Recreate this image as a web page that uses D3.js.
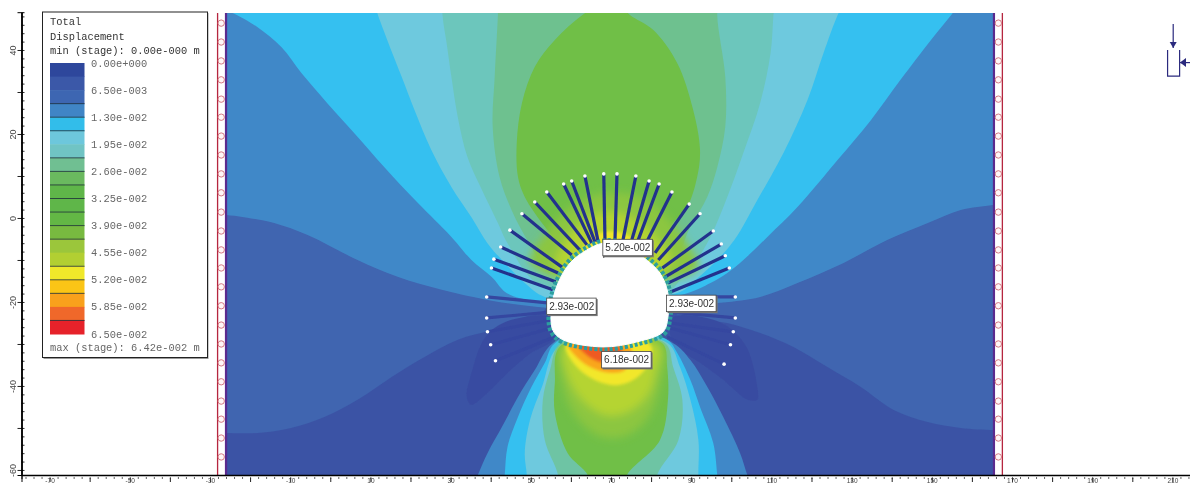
<!DOCTYPE html>
<html>
<head>
<meta charset="utf-8">
<script src="https://cdnjs.cloudflare.com/ajax/libs/d3/7.8.5/d3.min.js"></script>
<style>
  html, body { margin: 0; padding: 0; background: #fff; overflow: hidden; }
  svg { display: block; }
  .mono { font-family: "Liberation Mono", monospace; font-size: 10.4px; }
</style>
</head>
<body>
<svg id="chart" width="1190" height="486"></svg>
<script>
const xTickLabels = [-70, -50, -30, -10, 10, 30, 50, 70, 90, 110, 130, 150, 170, 190, 210];
const yTickLabels = [40, 20, 0, -20, -40, -60];

// legend
const legendTicks = [0, 0.0065, 0.013, 0.0195, 0.026, 0.0325, 0.039, 0.0455, 0.052, 0.0585, 0.065];
const legendLabels = ['0.00e+000', '6.50e-003', '1.30e-002', '1.95e-002', '2.60e-002', '3.25e-002', '3.90e-002', '4.55e-002', '5.20e-002', '5.85e-002', '6.50e-002'];
const legendColors = ['#2f469c', '#3a58a8', '#3d66b2', '#3f85c6', '#33bdea', '#6dc7dc', '#70c4c4', '#70bf92', '#6bb95f', '#5fb648',
  '#5fb648', '#63b745', '#78ba40', '#9bc63a', '#b2cf33', '#f0e82a', '#fbc515', '#f9a11b', '#f0672a', '#e62329'];
const legendBreaks = [3, 4, 5, 7, 8, 9, 10, 11, 12, 13, 15, 16, 17, 19];

// contour boundaries [x, y] in model units
const darkLeft = [[-32, 5], [-32, -51.2], [-26.5, -51.2], [-18.2, -51.2], [-9.8, -50], [-1.5, -47.4], [6.8, -43.3], [15.2, -37.9], [23.5, -33.1], [31.8, -29], [40.2, -26.7], [48.5, -23.6], [53.5, -21.9], [53.5, -15]];
const darkRight = [[86, -15], [86.5, -23.1], [99, -25], [107.2, -27.4], [115.5, -30.7], [124, -35.5], [132.2, -40.2], [140.5, -45.7], [149, -48.6], [157.2, -50], [165.5, -50.5], [169.8, -50.5], [172, -50.5], [172, 5]];
const earLeft = [[55.5, -23.8], [43.5, -24.8], [38.5, -28.6], [35.2, -36.9], [34, -42.6], [35.2, -44.5], [39.2, -41.7], [44.2, -36.9], [50.2, -32.1], [55.5, -29]];
const earRight = [[85.2, -23.8], [97.2, -24.8], [103.5, -30.2], [106.5, -40.2], [106.5, -43.3], [104, -43.3], [98, -38.6], [92.2, -34.5], [85.5, -29.8]];

const upperBlue = [[-32, 56], [-32, 1.5], [-30.2, 1], [-26, .7], [-21.5, .2], [-14, -1.2], [-5.8, -4], [6.8, -10], [16.8, -14], [27.8, -17.1], [39.2, -19.5], [51.8, -21.2], [69.8, -21.9], [97.2, -20.2], [107.2, -18.8], [116.5, -15.5], [128, -10.7], [139, -5.2], [149, -1.2], [157.2, 1.9], [165.2, 3.1], [169.8, 3.6], [173, 4], [173, 56]];
const upperCyan = [[-28, 56], [-26.5, 50], [-23.2, 48.3], [-18.2, 45.5], [-12.2, 40.7], [-7.2, 34.5], [-.8, 27.4], [6, 20.2], [13.5, 12.1], [21.8, 3.6], [30.2, -4.5], [35.2, -10], [40.2, -14], [44.8, -18.3], [69.8, -20.7], [89, -17.9], [94.8, -15.5], [99, -13.1], [103, -10], [109, -4.5], [116.5, 2.6], [126.5, 13.8], [134.8, 23.3], [142.2, 32.9], [149.8, 42.4], [154.8, 48.3], [158.5, 53], [158.5, 56]];
const upperLight = [[10.5, 54], [11.5, 49.5], [14.2, 42.4], [17.8, 33.6], [21, 25.7], [25.2, 16.2], [30.2, 7.4], [35.2, .2], [39.2, -6], [42.8, -10], [48.5, -15.5], [53.5, -18.8], [69.8, -19.5], [87.2, -17.6], [91, -14.8], [96, -10.5], [100.8, -5.2], [106.5, 4.3], [113, 15.5], [119, 28.1], [123, 39.3], [126.5, 48.3], [128.5, 52], [128.5, 54]];
const upperTeal = [[28, 54], [28, 48.3], [29, 41.7], [30.2, 33.6], [31.8, 24], [34.2, 14.5], [37.8, 6.7], [41.8, -1.2], [44.2, -6], [52.2, -16], [69.8, -18.3], [84.8, -17.1], [87.2, -14.8], [91, -10.5], [94.8, -4.5], [99, 5], [103, 15.5], [107.2, 27.4], [109.8, 39.3], [110.5, 48.3], [111, 54]];
const upperSeaGreen = [[42, 54], [41.8, 48.3], [41, 33.6], [40.5, 21.7], [42.2, 9.8], [45.2, 1.9], [49.8, -6.4], [54.2, -12.4], [69.8, -16], [84.8, -11.2], [89.8, -2.1], [94, 5], [96.5, 12.1], [98.5, 21.7], [98.5, 33.6], [96.5, 48.3], [97, 54]];
const upperGreen = [[67.2, 50.7], [62.8, 48.3], [56, 42.4], [51, 36], [47.8, 27.4], [46.5, 17.9], [46.8, 9.8], [48.5, 5], [53.5, -2.1], [56.8, -6], [59.8, -12.4], [69.8, -14.8], [82.2, -10], [84.8, -2.1], [89, 2.6], [91.5, 9.8], [92.2, 16.2], [90.5, 25.7], [86.5, 36.9], [80.5, 44.8], [74.8, 48.3], [72.2, 50.7]];
const upperLime = [[49.8, -10.5], [53.5, -4], [58.5, 1.4], [64.8, 5], [70.2, 6], [77.2, 5], [83.5, .7], [89.2, -6.4], [91.8, -11.9], [77.2, -16], [62.2, -16]];
const upperOlive = [[56.2, -11.9], [58.8, -5.2], [62.8, -1], [67.2, 1.2], [71.8, 1.2], [77.2, -1], [81.8, -5.2], [85.2, -10.5], [77.2, -14.8], [62.2, -14.8]];
const upperYellow = [[62, -10.5], [63.8, -6], [67.2, -3.6], [71.8, -3.3], [75.8, -5.2], [79.2, -9.5], [72.2, -12.4], [64.8, -12.4]];

const lowerBlue = [[34.8, -66], [36.8, -61.2], [39.2, -56], [42.8, -49.8], [46.8, -42.6], [51, -36.2], [55.5, -29.8], [69.8, -25.5], [85.5, -29.8], [89.8, -33.8], [94, -40.2], [98, -47.4], [102.2, -56], [104, -61.2], [106, -66]];
const lowerCyan = [[43, -66], [43.5, -61.2], [44.2, -54.5], [46.8, -47.4], [50.2, -40.2], [53.5, -34.5], [56, -29.8], [69.8, -26.7], [84, -29], [86.5, -32.1], [89.8, -38.6], [92.2, -45], [95.5, -53.6], [96.5, -61.2], [97, -66]];
const lowerLight = [[49, -66], [49, -61.2], [48.5, -56], [49.8, -48.1], [52.8, -40.2], [56.8, -30.7], [69.8, -27.9], [84.2, -29.8], [87.2, -35.5], [89.8, -43.3], [91.8, -52.9], [91.8, -61.2], [92, -66]];
const lowerTeal = [[57, -66], [56.8, -61.2], [53.5, -52.9], [53, -43.3], [54.8, -36.2], [57.2, -30.2], [69.8, -28.6], [83.5, -29.8], [85.5, -35.5], [87.8, -43.3], [86.8, -52.9], [81.5, -61.2], [81, -66]];
const lowerGreen = [[65, -66], [64.2, -61.2], [59.2, -56], [56, -46.4], [56, -39.3], [57.2, -30.7], [69.8, -29], [82.8, -29.8], [84, -35.5], [84.2, -43.3], [82.2, -52.9], [74, -61.2], [73, -66]];
const lowerLime = [[57.8, -30.2], [58, -39.8], [61, -46.9], [67.2, -51.9], [73.5, -51.9], [79.2, -47.6], [82.2, -39.8], [82.8, -30.2]];
const lowerOlive = [[58.5, -30.2], [59.2, -37.4], [62.8, -43.3], [68.5, -46.9], [74.2, -46.2], [79.2, -42.1], [81.2, -36.2], [81.8, -30.2]];
const lowerYellow = [[58.8, -30.2], [61.5, -35.5], [66.5, -38.8], [71.5, -39.8], [75.5, -38.6], [79.2, -35], [79.8, -30.2]];
const lowerOrange = [[59.2, -29.8], [62.2, -33.8], [66.5, -36.2], [70.5, -36.9], [73.5, -36.2], [75.2, -31.4], [69.8, -29]];
const lowerRed = [[61.8, -30.2], [64.8, -33.3], [68, -34.5], [71, -34.3], [72.8, -31.4], [67.2, -29]];

// excavation outline
const tunnel = [[68, -6], [73.5, -6.4], [78, -9.3], [82.2, -13.1], [84.2, -17.9], [84.2, -23.6], [83, -27.1], [76.5, -29.5], [68, -30.7], [58, -29], [55.5, -26.7], [55.2, -21.2], [56.8, -15.5], [59.8, -10.7], [64, -7.6]];

// rock bolts: collar and far end
const boltCollars = [[55.5, -17.1], [56.2, -15.2], [56.8, -13.1], [57.8, -11.7], [60.2, -8.8], [62.2, -7.6], [64, -6.4], [65.2, -6], [66, -5.7], [66.8, -5.7], [68.5, -5.2], [71, -5.2], [73, -5.2], [75.2, -5.2], [76.8, -5.2], [79.2, -5.2], [81, -8.3], [81.8, -10], [82.8, -11.9], [83.5, -14], [84.2, -15.5], [84.8, -17.6], [84.8, -18.8], [85.2, -22.4], [84.8, -25], [84.8, -26.2], [84, -28.3], [54.2, -20.2], [54.8, -22.4], [55.2, -24.3], [55.2, -26.2], [56, -28.3]];
const boltEnds = [[40.2, -11.9], [40.8, -9.8], [42.5, -6.9], [44.8, -2.9], [47.8, 1], [51, 3.8], [54, 6.2], [58.2, 8.1], [60.2, 8.8], [63.5, 10], [68.2, 10.5], [71.5, 10.5], [76.2, 10], [79.5, 8.8], [82, 8.1], [85.2, 6.2], [89.5, 3.3], [92.2, 1], [95.5, -3.1], [97.5, -6.2], [98.5, -9], [99.5, -11.9], [101, -18.8], [101, -23.8], [100.5, -27.1], [99.8, -30.2], [98.2, -34.8], [39, -18.8], [39, -23.8], [39.2, -27.1], [40, -30.2], [41.2, -34]];

// query labels on the excavation
const calloutLabels = ['5.20e-002', '2.93e-002', '2.93e-002', '6.18e-002'];
const calloutPoints = [[74.2, -7.1], [60.2, -21.1], [90.1, -20.4], [73.9, -33.8]];

// restraints along the model sides
const hingeY = [46.4, 41.9, 37.4, 32.9, 28.3, 24, 19.5, 15, 10.5, 6, 1.4, -3.1, -7.6, -11.9, -16.4, -20.9, -25.5, -30, -34.5, -39, -43.6, -47.9, -52.4, -56.9];
const modelX = [-26, 165.5];
const modelY = [48.8, -61.2];
const stripX = [-28.1, 167.6];
const hingeX = [-27.2, 166.6];

// field stress symbol
const symbolBox = [[208.8, 40], [208.8, 33.8], [211.8, 33.8], [211.8, 40]];
const symbolArrowDown = [[210.2, 46.2], [210.2, 40.5]];
const symbolArrowLeft = [[214.8, 37], [211.9, 37]];

const svg = d3.select('#chart');

const x = d3.scaleLinear().domain([-77, 220]).range([21.5, 1212.5]);
const y = d3.scaleLinear().domain([49, -61.2]).range([12.2, 475]);
const legendY = d3.scaleLinear().domain([0, 0.065]).range([63, 334]);

const closedLine = d3.line().x(d => x(d[0])).y(d => y(d[1])).curve(d3.curveCatmullRomClosed.alpha(0.5));

const defs = svg.append('defs');
defs.append('clipPath').attr('id', 'model').append('rect')
    .attr('x', x(modelX[0])).attr('y', y(modelY[0]))
    .attr('width', x(modelX[1]) - x(modelX[0])).attr('height', y(modelY[1]) - y(modelY[0]));
const blurs = { soft: 0.7, mid: 1.6, wide: 4.5, text: 0.45 };
Object.keys(blurs).forEach(k => {
    defs.append('filter').attr('id', k)
        .attr('x', '-20%').attr('y', '-20%').attr('width', '140%').attr('height', '140%')
        .append('feGaussianBlur').attr('stdDeviation', blurs[k]);
});

// contour field, outer bands first
const field = svg.append('g').attr('clip-path', 'url(#model)');
field.append('rect')
    .attr('x', x(modelX[0])).attr('y', y(modelY[0]))
    .attr('width', x(modelX[1]) - x(modelX[0])).attr('height', y(modelY[1]) - y(modelY[0]))
    .attr('fill', '#3b53a5');

const hardBands = [
    [darkLeft, '#3f65b0'], [darkRight, '#3f65b0'], [earLeft, '#394ca1'], [earRight, '#394ca1'],
    [upperBlue, '#4088c8'], [upperCyan, '#35c0f0'], [upperLight, '#6ec9de'], [upperTeal, '#6cc6bc'], [upperSeaGreen, '#6ec18f'], [upperGreen, '#6fbf47'],
    [lowerBlue, '#4088c8'], [lowerCyan, '#35c0f0'], [lowerLight, '#6ec9de'], [lowerTeal, '#6ec4a4'], [lowerGreen, '#6fbf47']
];
const wideBands = [
    [upperLime, '#8cc63f'], [upperOlive, '#b5d433'],
    [lowerLime, '#8cc63f'], [lowerOlive, '#b5d433']
];
const midBands = [
    [upperYellow, '#f0e62b'], [lowerYellow, '#f2e72a'], [lowerOrange, '#f9a61c'], [lowerRed, '#ee5a24']
];

field.append('g').attr('filter', 'url(#soft)').selectAll('path')
    .data(hardBands).enter().append('path')
    .attr('d', d => closedLine(d[0]))
    .attr('fill', d => d[1]);
field.append('g').attr('filter', 'url(#wide)').selectAll('path')
    .data(wideBands).enter().append('path')
    .attr('d', d => closedLine(d[0]))
    .attr('fill', d => d[1]);
field.append('g').attr('filter', 'url(#mid)').selectAll('path')
    .data(midBands).enter().append('path')
    .attr('d', d => closedLine(d[0]))
    .attr('fill', d => d[1]);

// bolts
const bolts = boltCollars.map((c, i) => ({ collar: c, end: boltEnds[i], upper: boltEnds[i][1] > -15 }));
svg.append('g').attr('filter', 'url(#soft)').selectAll('line')
    .data(bolts).enter().append('line')
    .attr('x1', d => x(d.collar[0])).attr('y1', d => y(d.collar[1]))
    .attr('x2', d => x(d.end[0])).attr('y2', d => y(d.end[1]))
    .attr('stroke', d => d.upper ? '#23308c' : '#3547a0')
    .attr('stroke-width', 3.2);

// excavation: teal liner nubs with the white opening on top
svg.append('path')
    .attr('d', closedLine(tunnel))
    .attr('fill', 'none')
    .attr('stroke', '#2b9f9f')
    .attr('stroke-width', 9)
    .attr('stroke-dasharray', '3 2');
svg.append('path')
    .attr('d', closedLine(tunnel))
    .attr('fill', '#fff')
    .attr('stroke', '#fff')
    .attr('stroke-width', 1)
    .attr('filter', 'url(#text)');

// bolt end dots
svg.append('g').selectAll('circle')
    .data(boltEnds).enter().append('circle')
    .attr('cx', d => x(d[0])).attr('cy', d => y(d[1]))
    .attr('r', 1.8).attr('fill', '#fff');

// restraints on both sides
const sides = svg.append('g').attr('filter', 'url(#text)');
[0, 1].forEach(s => {
    sides.append('line')
        .attr('x1', x(stripX[s])).attr('x2', x(stripX[s]))
        .attr('y1', y(modelY[0])).attr('y2', y(modelY[1]))
        .attr('stroke', '#b5283f').attr('stroke-width', 1.3);
    sides.append('line')
        .attr('x1', x(modelX[s])).attr('x2', x(modelX[s]))
        .attr('y1', y(modelY[0])).attr('y2', y(modelY[1]))
        .attr('stroke', '#5a2a8e').attr('stroke-width', 2.2);
    sides.selectAll('circle.h' + s)
        .data(hingeY).enter().append('circle')
        .attr('class', 'h' + s)
        .attr('cx', x(hingeX[s])).attr('cy', d => y(d))
        .attr('r', 3.2)
        .attr('fill', '#fff6f6')
        .attr('stroke', '#cf6a76').attr('stroke-width', 0.9);
});

// axes
const yMinor = d3.range(-60, 49, 2);
const yMid = d3.range(-60, 49, 10);
const xMinor = d3.range(-76, 216, 2);
const xMid = d3.range(-70, 216, 10);

const axes = svg.append('g').attr('filter', 'url(#text)');
axes.append('g').attr('transform', 'translate(0,475)')
    .call(d3.axisBottom(x).tickValues(xMinor).tickSize(4).tickFormat(''))
    .call(g => g.selectAll('.tick line').attr('y1', 2).attr('stroke', '#666'));
axes.append('g').attr('transform', 'translate(0,475)')
    .call(d3.axisBottom(x).tickValues(xMid).tickSize(7).tickFormat(''))
    .call(g => g.selectAll('.tick line').attr('y1', 3).attr('stroke', '#222'));
axes.append('g').attr('transform', 'translate(0,475)')
    .call(d3.axisBottom(x).tickValues(xTickLabels).tickSize(0).tickPadding(3.5).tickFormat(d => d))
    .call(g => g.selectAll('text').attr('font-family', 'Liberation Sans').attr('font-size', 6.5).attr('fill', '#444'))
    .call(g => g.select('.domain').attr('stroke', '#000').attr('stroke-width', 1.5));

axes.append('g').attr('transform', 'translate(21.5,0)')
    .call(d3.axisRight(y).tickValues(yMinor).tickSize(3).tickFormat(''))
    .call(g => g.selectAll('.tick line').attr('stroke', '#333'));
axes.append('g').attr('transform', 'translate(21.5,0)')
    .call(d3.axisLeft(y).tickValues(yMid).tickSize(4).tickFormat(''))
    .call(g => g.selectAll('.tick line').attr('stroke', '#222'));
axes.append('g').attr('transform', 'translate(21.5,0)')
    .call(d3.axisLeft(y).tickValues(yTickLabels).tickSize(0).tickPadding(0).tickFormat(d => d))
    .call(g => g.select('.domain').attr('stroke', '#000').attr('stroke-width', 1.5))
    .call(g => g.selectAll('text')
        .attr('font-family', 'Liberation Sans').attr('font-size', 9).attr('fill', '#444')
        .attr('text-anchor', 'middle').attr('dy', 0).attr('x', 0)
        .attr('transform', 'translate(-6,0) rotate(-90)'));

// legend box
const legend = svg.append('g');
legend.append('rect').attr('x', 43.5).attr('y', 13).attr('width', 165).attr('height', 346).attr('fill', '#999');
legend.append('rect').attr('x', 42.5).attr('y', 12).attr('width', 165).attr('height', 345.5)
    .attr('fill', '#fff').attr('stroke', '#222').attr('stroke-width', 1);

const legendText = legend.append('g').attr('filter', 'url(#text)').attr('class', 'mono').attr('fill', '#333');
['Total', 'Displacement', 'min (stage): 0.00e-000 m'].forEach((t, i) => {
    legendText.append('text').attr('x', 50).attr('y', [25, 40, 54][i]).text(t);
});
legendText.append('text').attr('x', 50).attr('y', 351).attr('fill', '#666').text('max (stage): 6.42e-002 m');
legendText.selectAll('text.lev')
    .data(legendLabels).enter().append('text')
    .attr('class', 'lev')
    .attr('x', 91).attr('y', (d, i) => legendY(legendTicks[i]) + 3.5)
    .attr('fill', '#666')
    .text(d => d);

const step = 0.00325;
const swatch = legend.append('g').attr('filter', 'url(#text)');
swatch.selectAll('rect')
    .data(legendColors).enter().append('rect')
    .attr('x', 50).attr('width', 34.5)
    .attr('y', (d, i) => legendY(i * step))
    .attr('height', legendY(step) - legendY(0) + 0.5)
    .attr('fill', d => d);
swatch.selectAll('line')
    .data(legendBreaks).enter().append('line')
    .attr('x1', 50).attr('x2', 84.5)
    .attr('y1', d => legendY(d * step)).attr('y2', d => legendY(d * step))
    .attr('stroke', '#1d2f3a').attr('stroke-width', 0.8);

// callouts
const callouts = svg.append('g');
callouts.append('line')
    .attr('x1', x(68.2)).attr('x2', x(68.2)).attr('y1', y(-7)).attr('y2', y(-9.5))
    .attr('stroke', '#333');
calloutLabels.forEach((t, i) => {
    const cx = x(calloutPoints[i][0]), cy = y(calloutPoints[i][1]);
    callouts.append('rect').attr('x', cx - 24).attr('y', cy - 7.5).attr('width', 50).attr('height', 17).attr('fill', '#777');
    callouts.append('rect').attr('x', cx - 25).attr('y', cy - 8.5).attr('width', 49.5).attr('height', 16.5)
        .attr('fill', '#fff').attr('stroke', '#444').attr('stroke-width', 0.8);
    callouts.append('text').attr('x', cx).attr('y', cy + 3.5)
        .attr('text-anchor', 'middle')
        .attr('font-family', 'Liberation Sans').attr('font-size', 10).attr('fill', '#333')
        .attr('filter', 'url(#text)')
        .text(t);
});

// field stress symbol
const plainLine = d3.line().x(d => x(d[0])).y(d => y(d[1]));
const symbol = svg.append('g').attr('fill', 'none').attr('stroke', '#2b2a7e').attr('stroke-width', 1.2);
symbol.append('path').attr('d', plainLine(symbolBox));
symbol.append('path').attr('d', plainLine(symbolArrowDown));
symbol.append('path').attr('d', plainLine(symbolArrowLeft));
const headDown = symbolArrowDown[1], headLeft = symbolArrowLeft[1];
svg.append('path')
    .attr('d', `M${x(headDown[0]) - 3.5},${y(headDown[1]) - 6}h7l-3.5,6z`)
    .attr('fill', '#2b2a7e');
svg.append('path')
    .attr('d', `M${x(headLeft[0]) + 6},${y(headLeft[1]) - 4.5}v9l-6,-4.5z`)
    .attr('fill', '#2b2a7e');
</script>
</body>
</html>
